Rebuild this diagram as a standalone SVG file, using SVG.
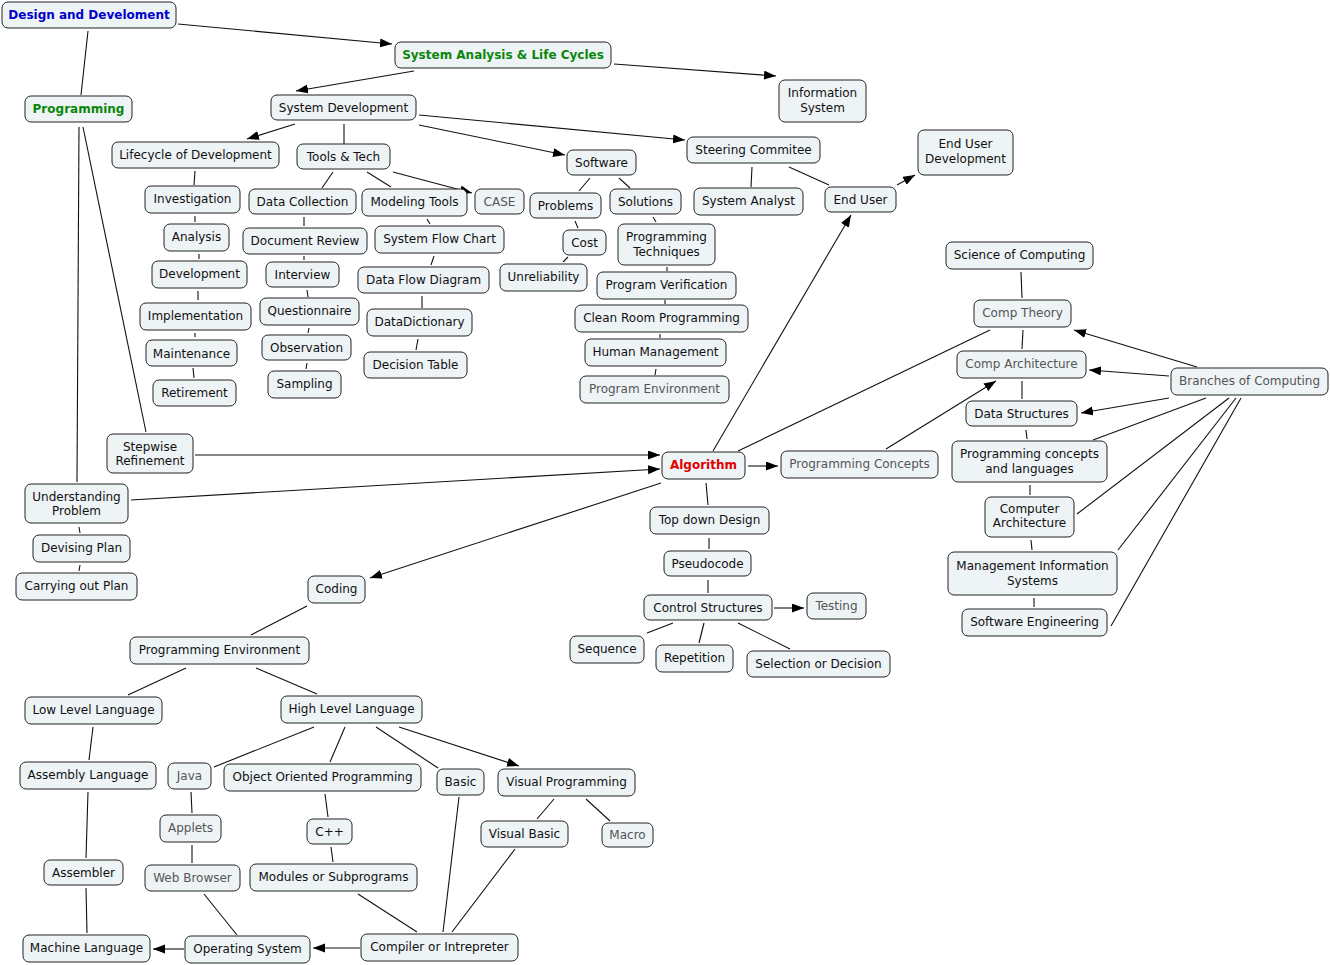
<svg xmlns="http://www.w3.org/2000/svg" width="1330" height="965" viewBox="0 0 1330 965">
<style>
rect.n{fill:#eef3f6;stroke:#222;stroke-width:1}
text{font-family:"DejaVu Sans","Liberation Sans",sans-serif;font-size:12px;fill:#111;text-anchor:middle}
text.g{fill:#555}
text.b{font-weight:bold}
#edges line{stroke:#111;stroke-width:1.1}
line.a{marker-end:url(#ah)}
</style>
<defs>
<marker id="ah" markerUnits="userSpaceOnUse" markerWidth="13" markerHeight="10" refX="12" refY="4.5" orient="auto">
<path d="M0,0 L12,4.5 L0,9 z" fill="#000"/>
</marker>
</defs>
<rect width="1330" height="965" fill="#fff"/>
<g id="edges">
<line class="a" x1="178" y1="24" x2="392" y2="44"/>
<line x1="88" y1="31" x2="81" y2="95"/>
<line class="a" x1="614" y1="64" x2="776" y2="76"/>
<line class="a" x1="414" y1="71" x2="296" y2="91"/>
<line class="a" x1="295" y1="124" x2="247" y2="139"/>
<line x1="344" y1="124" x2="344" y2="144"/>
<line class="a" x1="419" y1="125" x2="565" y2="155"/>
<line class="a" x1="419" y1="115" x2="685" y2="140"/>
<line x1="752" y1="167" x2="751" y2="187"/>
<line x1="789" y1="167" x2="829" y2="185"/>
<line class="a" x1="897" y1="185" x2="915" y2="175"/>
<line class="a" x1="713" y1="451" x2="851" y2="215"/>
<line x1="195" y1="171" x2="194" y2="185"/>
<line x1="195" y1="216" x2="195" y2="222"/>
<line x1="199" y1="254" x2="199" y2="259"/>
<line x1="198" y1="291" x2="198" y2="300"/>
<line x1="195" y1="333" x2="195" y2="337"/>
<line x1="193" y1="368" x2="194" y2="378"/>
<line x1="333" y1="172" x2="322" y2="188"/>
<line x1="367" y1="172" x2="391" y2="187"/>
<line class="a" x1="393" y1="172" x2="472" y2="193"/>
<line x1="304" y1="217" x2="304" y2="226"/>
<line x1="304" y1="256" x2="304" y2="260"/>
<line x1="307" y1="290" x2="308" y2="297"/>
<line x1="309" y1="328" x2="308" y2="333"/>
<line x1="307" y1="363" x2="306" y2="369"/>
<line x1="427" y1="219" x2="430" y2="224"/>
<line x1="434" y1="256" x2="431" y2="265"/>
<line x1="422" y1="296" x2="422" y2="308"/>
<line x1="418" y1="339" x2="416" y2="350"/>
<line x1="590" y1="178" x2="579" y2="191"/>
<line x1="619" y1="178" x2="630" y2="188"/>
<line x1="575" y1="221" x2="578" y2="228"/>
<line x1="568" y1="257" x2="563" y2="262"/>
<line x1="653" y1="217" x2="656" y2="222"/>
<line x1="667" y1="267" x2="667" y2="271"/>
<line x1="665" y1="300" x2="665" y2="304"/>
<line x1="660" y1="334" x2="660" y2="338"/>
<line x1="656" y1="369" x2="655" y2="375"/>
<line x1="1021" y1="272" x2="1022" y2="298"/>
<line x1="1023" y1="330" x2="1022" y2="349"/>
<line x1="1022" y1="381" x2="1022" y2="399"/>
<line x1="1026" y1="430" x2="1027" y2="439"/>
<line x1="1030" y1="485" x2="1030" y2="495"/>
<line x1="1031" y1="540" x2="1032" y2="550"/>
<line x1="1034" y1="598" x2="1034" y2="607"/>
<line class="a" x1="1197" y1="367" x2="1074" y2="330"/>
<line class="a" x1="1169" y1="376" x2="1089" y2="370"/>
<line class="a" x1="1169" y1="398" x2="1081" y2="413"/>
<line x1="1206" y1="398" x2="1093" y2="440"/>
<line x1="1229" y1="398" x2="1077" y2="514"/>
<line x1="1236" y1="398" x2="1118" y2="550"/>
<line x1="1241" y1="398" x2="1111" y2="626"/>
<line x1="738" y1="451" x2="990" y2="330"/>
<line class="a" x1="886" y1="449" x2="996" y2="381"/>
<line class="a" x1="748" y1="466" x2="778" y2="466"/>
<line class="a" x1="195" y1="455" x2="660" y2="455"/>
<line class="a" x1="131" y1="500" x2="660" y2="469"/>
<line x1="79" y1="127" x2="77" y2="482"/>
<line x1="83" y1="127" x2="146" y2="432"/>
<line x1="79" y1="527" x2="80" y2="533"/>
<line x1="80" y1="565" x2="79" y2="571"/>
<line class="a" x1="661" y1="483" x2="370" y2="578"/>
<line x1="706" y1="483" x2="708" y2="505"/>
<line x1="709" y1="538" x2="709" y2="549"/>
<line x1="708" y1="580" x2="708" y2="593"/>
<line class="a" x1="774" y1="608" x2="804" y2="608"/>
<line x1="673" y1="623" x2="647" y2="633"/>
<line x1="704" y1="623" x2="699" y2="643"/>
<line x1="738" y1="623" x2="790" y2="649"/>
<line x1="307" y1="606" x2="251" y2="635"/>
<line x1="186" y1="668" x2="128" y2="695"/>
<line x1="256" y1="668" x2="317" y2="694"/>
<line x1="93" y1="727" x2="89" y2="760"/>
<line x1="88" y1="792" x2="86" y2="858"/>
<line x1="86" y1="888" x2="87" y2="933"/>
<line x1="314" y1="727" x2="214" y2="767"/>
<line x1="345" y1="727" x2="330" y2="762"/>
<line x1="376" y1="727" x2="438" y2="768"/>
<line class="a" x1="399" y1="727" x2="519" y2="766"/>
<line x1="191" y1="792" x2="192" y2="813"/>
<line x1="192" y1="845" x2="192" y2="863"/>
<line x1="325" y1="794" x2="328" y2="817"/>
<line x1="331" y1="847" x2="333" y2="862"/>
<line x1="554" y1="799" x2="537" y2="819"/>
<line x1="586" y1="799" x2="610" y2="821"/>
<line x1="204" y1="894" x2="237" y2="935"/>
<line x1="358" y1="894" x2="417" y2="932"/>
<line x1="459" y1="797" x2="443" y2="932"/>
<line x1="515" y1="849" x2="452" y2="932"/>
<line class="a" x1="360" y1="948" x2="313" y2="948"/>
<line class="a" x1="184" y1="949" x2="153" y2="949"/>
</g>
<g id="n1"><rect class="n" x="2" y="2" width="174" height="26" rx="6"/><text class="b" x="89" y="19" style="fill:#0000cc">Design and Develoment</text></g>
<g id="n2"><rect class="n" x="395" y="42" width="216" height="26" rx="6"/><text class="b" x="503" y="59" style="fill:#0a860a">System Analysis &amp; Life Cycles</text></g>
<g id="n3"><rect class="n" x="779" y="80" width="87" height="42" rx="6"/><text x="822.5" y="97">Information</text><text x="822.5" y="112">System</text></g>
<g id="n4"><rect class="n" x="25" y="96" width="107" height="26" rx="6"/><text class="b" x="78.5" y="113" style="fill:#0a860a">Programming</text></g>
<g id="n5"><rect class="n" x="271" y="95" width="145" height="25" rx="6"/><text x="343.5" y="111.5">System Development</text></g>
<g id="n6"><rect class="n" x="112" y="142" width="167" height="26" rx="6"/><text x="195.5" y="159">Lifecycle of Development</text></g>
<g id="n7"><rect class="n" x="297" y="144" width="93" height="25" rx="6"/><text x="343.5" y="161">Tools &amp; Tech</text></g>
<g id="n8"><rect class="n" x="567" y="150" width="69" height="25" rx="6"/><text x="601.5" y="167">Software</text></g>
<g id="n9"><rect class="n" x="687" y="137" width="133" height="26" rx="6"/><text x="753.5" y="154">Steering Commitee</text></g>
<g id="n10"><rect class="n" x="918" y="130" width="95" height="45" rx="6"/><text x="965.5" y="148">End User</text><text x="965.5" y="163">Development</text></g>
<g id="n11"><rect class="n" x="825" y="187" width="71" height="25" rx="6"/><text x="860.5" y="204">End User</text></g>
<g id="n12"><rect class="n" x="145" y="186" width="95" height="27" rx="6"/><text x="192.5" y="203">Investigation</text></g>
<g id="n13"><rect class="n" x="249" y="189" width="107" height="25" rx="6"/><text x="302.5" y="206">Data Collection</text></g>
<g id="n14"><rect class="n" x="362" y="189" width="105" height="27" rx="6"/><text x="414.5" y="206">Modeling Tools</text></g>
<g id="n15"><rect class="n" x="475" y="189" width="49" height="25" rx="6"/><text class="g" x="499.5" y="206">CASE</text></g>
<g id="n16"><rect class="n" x="530" y="193" width="71" height="25" rx="6"/><text x="565.5" y="210">Problems</text></g>
<g id="n17"><rect class="n" x="610" y="189" width="71" height="25" rx="6"/><text x="645.5" y="206">Solutions</text></g>
<g id="n18"><rect class="n" x="694" y="188" width="109" height="27" rx="6"/><text x="748.5" y="205">System Analyst</text></g>
<g id="n19"><rect class="n" x="164" y="224" width="65" height="27" rx="6"/><text x="196.5" y="241">Analysis</text></g>
<g id="n20"><rect class="n" x="243" y="228" width="124" height="26" rx="6"/><text x="305" y="245">Document Review</text></g>
<g id="n21"><rect class="n" x="375" y="226" width="129" height="27" rx="6"/><text x="439.5" y="243">System Flow Chart</text></g>
<g id="n22"><rect class="n" x="563" y="230" width="43" height="25" rx="6"/><text x="584.5" y="247">Cost</text></g>
<g id="n23"><rect class="n" x="618" y="224" width="97" height="41" rx="6"/><text x="666.5" y="241">Programming</text><text x="666.5" y="256">Techniques</text></g>
<g id="n24"><rect class="n" x="152" y="261" width="95" height="27" rx="6"/><text x="199.5" y="278">Development</text></g>
<g id="n25"><rect class="n" x="266" y="262" width="73" height="25" rx="6"/><text x="302.5" y="279">Interview</text></g>
<g id="n26"><rect class="n" x="358" y="267" width="131" height="26" rx="6"/><text x="423.5" y="284">Data Flow Diagram</text></g>
<g id="n27"><rect class="n" x="500" y="264" width="87" height="27" rx="6"/><text x="543.5" y="281">Unreliability</text></g>
<g id="n28"><rect class="n" x="597" y="272" width="139" height="27" rx="6"/><text x="666.5" y="289">Program Verification</text></g>
<g id="n29"><rect class="n" x="140" y="303" width="111" height="27" rx="6"/><text x="195.5" y="320">Implementation</text></g>
<g id="n30"><rect class="n" x="260" y="298" width="99" height="27" rx="6"/><text x="309.5" y="315">Questionnaire</text></g>
<g id="n31"><rect class="n" x="367" y="309" width="105" height="27" rx="6"/><text x="419.5" y="326">DataDictionary</text></g>
<g id="n32"><rect class="n" x="575" y="305" width="173" height="27" rx="6"/><text x="661.5" y="322">Clean Room Programming</text></g>
<g id="n33"><rect class="n" x="262" y="335" width="89" height="25" rx="6"/><text x="306.5" y="352">Observation</text></g>
<g id="n34"><rect class="n" x="585" y="339" width="141" height="27" rx="6"/><text x="655.5" y="356">Human Management</text></g>
<g id="n35"><rect class="n" x="146" y="340" width="91" height="26" rx="6"/><text x="191.5" y="358">Maintenance</text></g>
<g id="n36"><rect class="n" x="364" y="352" width="103" height="26" rx="6"/><text x="415.5" y="369">Decision Table</text></g>
<g id="n37"><rect class="n" x="268" y="371" width="73" height="27" rx="6"/><text x="304.5" y="388">Sampling</text></g>
<g id="n38"><rect class="n" x="580" y="376" width="149" height="27" rx="6"/><text class="g" x="654.5" y="393">Program Environment</text></g>
<g id="n39"><rect class="n" x="153" y="380" width="83" height="26" rx="6"/><text x="194.5" y="397">Retirement</text></g>
<g id="n40"><rect class="n" x="946" y="242" width="147" height="27" rx="6"/><text x="1019.5" y="259">Science of Computing</text></g>
<g id="n41"><rect class="n" x="974" y="300" width="97" height="27" rx="6"/><text class="g" x="1022.5" y="317">Comp Theory</text></g>
<g id="n42"><rect class="n" x="957" y="351" width="129" height="27" rx="6"/><text class="g" x="1021.5" y="368">Comp Architecture</text></g>
<g id="n43"><rect class="n" x="1171" y="368" width="157" height="27" rx="6"/><text class="g" x="1249.5" y="385">Branches of Computing</text></g>
<g id="n44"><rect class="n" x="966" y="401" width="111" height="25" rx="6"/><text x="1021.5" y="418">Data Structures</text></g>
<g id="n45"><rect class="n" x="952" y="441" width="155" height="41" rx="6"/><text x="1029.5" y="458">Programming concepts</text><text x="1029.5" y="473">and languages</text></g>
<g id="n46"><rect class="n" x="985" y="497" width="89" height="40" rx="6"/><text x="1029.5" y="513">Computer</text><text x="1029.5" y="527">Architecture</text></g>
<g id="n47"><rect class="n" x="948" y="552" width="169" height="43" rx="6"/><text x="1032.5" y="570">Management Information</text><text x="1032.5" y="585">Systems</text></g>
<g id="n48"><rect class="n" x="962" y="609" width="145" height="27" rx="6"/><text x="1034.5" y="626">Software Engineering</text></g>
<g id="n49"><rect class="n" x="107" y="434" width="86" height="39" rx="6"/><text x="150" y="451">Stepwise</text><text x="150" y="465">Refinement</text></g>
<g id="n50"><rect class="n" x="662" y="452" width="83" height="27" rx="6"/><text class="b" x="703.5" y="469" style="fill:#e00000">Algorithm</text></g>
<g id="n51"><rect class="n" x="781" y="451" width="157" height="27" rx="6"/><text class="g" x="859.5" y="468">Programming Concepts</text></g>
<g id="n52"><rect class="n" x="25" y="484" width="103" height="39" rx="6"/><text x="76.5" y="501">Understanding</text><text x="76.5" y="515">Problem</text></g>
<g id="n53"><rect class="n" x="33" y="535" width="97" height="27" rx="6"/><text x="81.5" y="552">Devising Plan</text></g>
<g id="n54"><rect class="n" x="16" y="573" width="121" height="27" rx="6"/><text x="76.5" y="590">Carrying out Plan</text></g>
<g id="n55"><rect class="n" x="650" y="507" width="119" height="27" rx="6"/><text x="709.5" y="524">Top down Design</text></g>
<g id="n56"><rect class="n" x="664" y="551" width="87" height="25" rx="6"/><text x="707.5" y="568">Pseudocode</text></g>
<g id="n57"><rect class="n" x="308" y="576" width="57" height="27" rx="6"/><text x="336.5" y="593">Coding</text></g>
<g id="n58"><rect class="n" x="644" y="595" width="128" height="25" rx="6"/><text x="708" y="612">Control Structures</text></g>
<g id="n59"><rect class="n" x="807" y="593" width="59" height="26" rx="6"/><text class="g" x="836.5" y="610">Testing</text></g>
<g id="n60"><rect class="n" x="570" y="636" width="74" height="27" rx="6"/><text x="607" y="653">Sequence</text></g>
<g id="n61"><rect class="n" x="656" y="645" width="77" height="27" rx="6"/><text x="694.5" y="662">Repetition</text></g>
<g id="n62"><rect class="n" x="747" y="651" width="143" height="26" rx="6"/><text x="818.5" y="668">Selection or Decision</text></g>
<g id="n63"><rect class="n" x="130" y="637" width="179" height="27" rx="6"/><text x="219.5" y="654">Programming Environment</text></g>
<g id="n64"><rect class="n" x="25" y="697" width="137" height="27" rx="6"/><text x="93.5" y="714">Low Level Language</text></g>
<g id="n65"><rect class="n" x="281" y="696" width="141" height="27" rx="6"/><text x="351.5" y="713">High Level Language</text></g>
<g id="n66"><rect class="n" x="20" y="762" width="136" height="27" rx="6"/><text x="88" y="779">Assembly Language</text></g>
<g id="n67"><rect class="n" x="168" y="763" width="43" height="26" rx="6"/><text class="g" x="189.5" y="780">Java</text></g>
<g id="n68"><rect class="n" x="224" y="764" width="197" height="27" rx="6"/><text x="322.5" y="781">Object Oriented Programming</text></g>
<g id="n69"><rect class="n" x="437" y="769" width="47" height="26" rx="6"/><text x="460.5" y="786">Basic</text></g>
<g id="n70"><rect class="n" x="498" y="769" width="137" height="27" rx="6"/><text x="566.5" y="786">Visual Programming</text></g>
<g id="n71"><rect class="n" x="160" y="815" width="61" height="27" rx="6"/><text class="g" x="190.5" y="832">Applets</text></g>
<g id="n72"><rect class="n" x="307" y="819" width="45" height="25" rx="6"/><text x="329.5" y="836">C++</text></g>
<g id="n73"><rect class="n" x="481" y="821" width="87" height="26" rx="6"/><text x="524.5" y="838">Visual Basic</text></g>
<g id="n74"><rect class="n" x="602" y="823" width="51" height="24" rx="6"/><text class="g" x="627.5" y="839">Macro</text></g>
<g id="n75"><rect class="n" x="44" y="860" width="79" height="25" rx="6"/><text x="83.5" y="877">Assembler</text></g>
<g id="n76"><rect class="n" x="145" y="865" width="95" height="26" rx="6"/><text class="g" x="192.5" y="882">Web Browser</text></g>
<g id="n77"><rect class="n" x="250" y="864" width="167" height="27" rx="6"/><text x="333.5" y="881">Modules or Subprograms</text></g>
<g id="n78"><rect class="n" x="23" y="935" width="127" height="27" rx="6"/><text x="86.5" y="952">Machine Language</text></g>
<g id="n79"><rect class="n" x="185" y="936" width="125" height="27" rx="6"/><text x="247.5" y="953">Operating System</text></g>
<g id="n80"><rect class="n" x="361" y="934" width="157" height="27" rx="6"/><text x="439.5" y="951">Compiler or Intrepreter</text></g>
</svg>
